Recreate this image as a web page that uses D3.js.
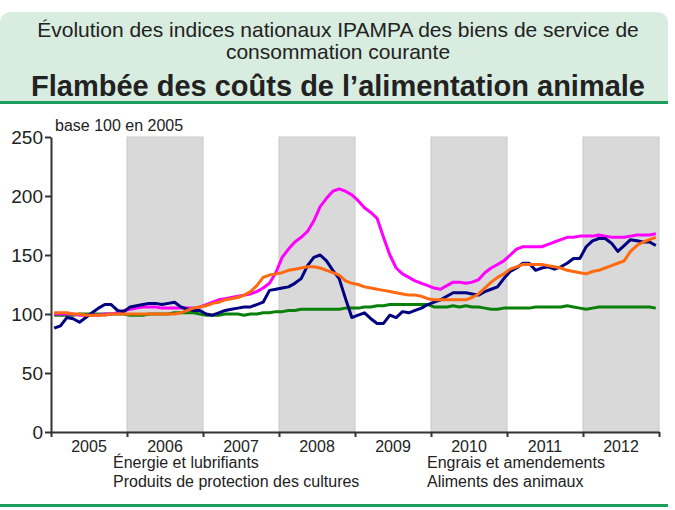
<!DOCTYPE html>
<html>
  <head>
    <meta charset="utf-8">
    <title>IPAMPA</title>
    <script type="text/javascript" src="https://d3js.org/d3.v7.min.js"></script>
    <style>
      body { margin:0; background:#fff; }
      text { font-family: "Liberation Sans", Arial, sans-serif; fill:#222; }
    </style>
  </head>
  <body>
    <svg width="675" height="510"></svg>
    <script>
    var years = ["2005","2006","2007","2008","2009","2010","2011","2012"];
    var yTicks = [0, 50, 100, 150, 200, 250];

    // indices mensuels, janvier 2005 -> decembre 2012
    var energie = [88,90,97,96,93,97,101,105,108,108,103,102,
      106,107,108,109,109,108,109,110,106,104,103,103,
      100,99,101,103,104,105,106,106,108,110,120,121,
      122,123,126,130,141,148,150,145,137,130,113,97,
      99,101,96,92,92,99,97,102,101,103,105,108,
      110,112,115,118,118,118,117,116,119,121,123,130,
      136,139,143,143,137,139,140,138,140,143,147,147,
      157,162,164,164,160,153,158,163,162,161,161,158];
    var engrais = [100,100,100,100,99,99,99,99,100,100,101,103,
      104,105,106,106,106,105,105,105,105,105,105,106,
      108,110,112,113,114,115,116,117,119,122,126,135,
      148,155,161,165,170,179,191,198,204,206,204,201,
      196,190,186,181,165,150,139,134,131,128,126,124,
      122,121,124,127,127,126,127,129,135,139,142,145,
      150,155,157,157,157,157,159,161,163,165,165,166,
      166,166,167,166,165,165,165,166,167,167,167,168];
    var aliments = [101,101,101,100,100,99,99,99,99,100,100,100,
      100,100,100,100,100,100,100,100,101,103,105,106,
      107,109,110,112,113,114,116,119,124,131,133,134,
      135,137,138,139,140,140,139,137,135,133,128,126,
      125,123,122,121,120,119,118,117,116,116,115,113,
      112,112,112,112,112,112,114,117,122,127,131,134,
      138,140,142,142,142,142,141,140,139,137,136,135,
      134,136,137,139,141,143,145,153,158,161,163,165];
    var protection = [99,99,99,99,100,100,100,100,100,100,100,100,
      99,99,99,100,100,100,100,101,101,101,101,100,
      99,99,99,100,100,100,99,100,100,101,101,102,
      102,103,103,104,104,104,104,104,104,104,105,105,
      105,106,106,107,107,108,108,108,108,108,108,108,
      106,106,106,107,106,107,106,106,105,104,104,105,
      105,105,105,105,106,106,106,106,106,107,106,105,
      104,105,106,106,106,106,106,106,106,106,106,105];

    var svg = d3.select("svg");

    // bandeau du titre
    svg.append("path")
      .attr("d", "M0,24 Q0,12 12,12 L656,12 Q668,12 668,24 L668,102 L0,102 Z")
      .attr("fill", "#d8ecdf");
    svg.append("rect").attr("x",0).attr("y",101).attr("width",668).attr("height",3).attr("fill","#1d9e5e");
    svg.append("rect").attr("x",0).attr("y",504).attr("width",668).attr("height",3).attr("fill","#1d9e5e");

    svg.append("text").attr("x",338).attr("y",37).attr("text-anchor","middle")
      .style("font-size","21px").text("Évolution des indices nationaux IPAMPA des biens de service de");
    svg.append("text").attr("x",338).attr("y",59).attr("text-anchor","middle")
      .style("font-size","21px").text("consommation courante");
    svg.append("text").attr("x",338).attr("y",96).attr("text-anchor","middle")
      .style("font-size","29px").style("font-weight","bold").text("Flambée des coûts de l’alimentation animale");

    var x = d3.scaleLinear().domain([0, 96]).range([51, 659]);
    var y = d3.scaleLinear().domain([0, 250]).range([432, 137]);

    // annees paires grisees
    svg.selectAll(".band").data(years.filter(function(d,i){ return i % 2 == 1; }))
      .enter().append("rect")
      .attr("x", function(d){ return x(years.indexOf(d) * 12); })
      .attr("y", y(250))
      .attr("width", x(12) - x(0))
      .attr("height", y(0) - y(250))
      .attr("fill", "#d9d9d9")
      .attr("stroke", "#c9c9c9")
      .attr("stroke-width", 1);

    var line = d3.line()
      .x(function(d,i){ return x(i + 0.5); })
      .y(function(d){ return y(d); });

    var series = [
      {values: protection, color: "#0a800a"},
      {values: engrais, color: "#ff00ff"},
      {values: energie, color: "#000080"},
      {values: aliments, color: "#ff6a10"}
    ];
    svg.selectAll(".serie").data(series).enter().append("path")
      .attr("d", function(d){ return line(d.values); })
      .attr("fill", "none")
      .attr("stroke", function(d){ return d.color; })
      .attr("stroke-width", 3)
      .attr("stroke-linejoin", "round");

    // axe y
    var yAxis = d3.axisLeft(y).tickValues(yTicks).tickSize(6).tickSizeOuter(0);
    var gy = svg.append("g").attr("transform", "translate(51,0)").call(yAxis);
    gy.selectAll("text").style("font-size","19px").attr("x",-8).attr("dy","0.35em");
    gy.selectAll("line, path").attr("stroke","#333").attr("stroke-width",2);

    // axe x
    var xAxis = d3.axisBottom(x).tickValues(d3.range(0, 97, 12)).tickSize(5).tickSizeOuter(0).tickFormat("");
    var gx = svg.append("g").attr("transform", "translate(0,432)").call(xAxis);
    gx.selectAll("line, path").attr("stroke","#333").attr("stroke-width",2);

    svg.selectAll(".year").data(years).enter().append("text")
      .attr("x", function(d,i){ return x(i * 12 + 6); })
      .attr("y", 452)
      .attr("text-anchor","middle")
      .style("font-size","16px")
      .text(function(d){ return d; });

    svg.append("text").attr("x",55).attr("y",131).style("font-size","16px").text("base 100 en 2005");

    var legendLeft = ["Énergie et lubrifiants", "Produits de protection des cultures"];
    var legendRight = ["Engrais et amendements", "Aliments des animaux"];
    svg.selectAll(".legl").data(legendLeft).enter().append("text")
      .attr("x",113).attr("y",function(d,i){ return 468 + i * 19; })
      .style("font-size","16px").text(function(d){ return d; });
    svg.selectAll(".legr").data(legendRight).enter().append("text")
      .attr("x",427).attr("y",function(d,i){ return 468 + i * 19; })
      .style("font-size","16px").text(function(d){ return d; });
    </script>
  </body>
</html>
